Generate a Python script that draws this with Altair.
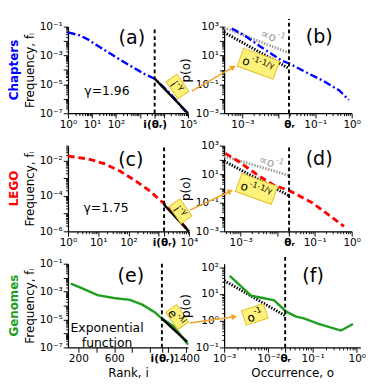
import altair as alt
import pandas as pd

FONT = "DejaVu Sans"
BLUE = "#0000ff"
RED = "#ff0000"
GREEN = "#1f9f1f"
YELLOW = "#fff27a"
YEDGE = "#e2bd2b"
ORANGE = "#f2a526"
GRAY = "#9a9a9a"

# ---------------- data ----------------
a_rank = [1, 3, 7, 13, 150, 1600, 4100, 20000, 80000]
a_freq = [0.0398, 0.0251, 0.0126, 0.0063, 5.0e-4, 5.0e-5, 2.5e-5, 2.0e-6, 1.26e-7]
a_fit_rank = [4100, 100000]
a_fit_freq = [2.5e-5, 1.0e-7]
a_theta = 4100

b_occ = [5.1e-4, 1.12e-3, 3.1e-3, 0.0123, 0.02, 0.063, 0.166, 0.457, 0.83]
b_p = [741, 257, 41.7, 4.27, 2.69, 0.589, 0.174, 0.038, 0.0083]
b_ref_occ = [3.16e-4, 0.019]
b_ref1_p = [851, 15]
b_ref2_p = [398, 1.26]
b_theta = 0.019

c_rank = [1, 4.6, 15.8, 53.7, 174, 479, 1514, 3890, 10000]
c_freq = [0.0186, 0.0129, 6.9e-3, 2.57e-3, 7.2e-4, 2.1e-4, 3.7e-5, 6.5e-6, 1.0e-6]
c_fit_rank = [1510, 10000]
c_fit_freq = [3.2e-5, 1.0e-6]
c_theta = 1510

d_occ = [3.9e-4, 9.3e-4, 3.0e-3, 7.8e-3, 0.0214, 0.083, 0.224, 0.617]
d_p = [288, 71, 8.1, 1.74, 0.68, 0.105, 0.0162, 2.2e-3]
d_ref_occ = [3.6e-4, 0.0204]
d_ref1_p = [182, 8.1]
d_ref2_p = [83, 0.31]
d_theta = 0.0204

e_rank = [117, 244, 414, 594, 774, 912, 1050, 1134, 1262, 1421]
e_freq = [3.7e-3, 1.7e-3, 5.6e-4, 3.5e-4, 2.6e-4, 1.17e-4, 3.3e-5, 1.12e-5, 3.2e-6, 1.6e-7]
e_fit_rank = [1134, 1412]
e_fit_freq = [1.12e-5, 2.5e-7]
e_theta = 1130

f_occ = [1.34e-3, 4.06e-3, 6.58e-3, 0.01355, 0.0254, 0.0411, 0.0635, 0.137, 0.438, 0.82]
f_p = [48.5, 8.77, 7.46, 5.85, 2.2, 1.47, 1.24, 0.76, 0.43, 0.76]
f_ref_occ = [1.0e-3, 0.0254]
f_ref_p = [32.3, 1.47]
f_theta = 0.024

rank5_major = [1, 10, 100, 1000, 10000, 100000]
rank5_labels = ["10⁰", "10¹", "10²", "", "", "10⁵"]
rank4_major = [1, 10, 100, 1000, 10000]
rank4_labels = ["10⁰", "10¹", "10²", "", "10⁴"]
freq7_major = [1e-7, 1e-6, 1e-5, 1e-4, 1e-3, 1e-2, 1e-1]
freq7_labels = ["10⁻⁷", "", "10⁻⁵", "", "10⁻³", "", "10⁻¹"]
freq6_major = [1e-6, 1e-5, 1e-4, 1e-3, 1e-2]
freq6_labels = ["10⁻⁶", "", "10⁻⁴", "", "10⁻²"]
occ_major = [1e-3, 1e-2, 1e-1, 1]
occ_labels_bd = ["10⁻³", "", "10⁻¹", "10⁰"]
occ_labels_f = ["10⁻³", "10⁻²", "10⁻¹", "10⁰"]
p6_major = [1e-3, 1e-2, 1e-1, 1, 10, 100, 1000]
p6_labels = ["10⁻³", "", "10⁻¹", "", "10¹", "", "10³"]
pf_major = [0.1, 1, 10, 100]
pf_labels = ["10⁻¹", "10⁰", "10¹", "10²"]
lin_ticks = [200, 400, 600, 800, 1000, 1200, 1400]
lin_labels = ["200", "", "600", "", "", "", "1400"]


def log_minor(d0, d1):
    return [k * 10.0 ** d for d in range(d0, d1) for k in range(2, 10)]


def near(v):
    return f"abs(datum.value - {v!r}) < {abs(v) * 1e-6!r}"


def mk_axis(major, labels, minor, lo, hi, theta=None, theta_label="", title=None):
    pairs = [(v, t) for v, t in zip(major, labels) if t]
    big = list(major)
    if theta is not None:
        pairs.append((theta, theta_label))
        big.append(theta)
    allv = list(major) + list(minor) + ([theta] if theta is not None else [])
    vals = sorted(set(v for v in allv if lo * 0.999999 <= v <= hi * 1.000001))
    expr = "''"
    for v, t in reversed(pairs):
        expr = f"({near(v)} ? '{t}' : {expr})"
    big_test = " || ".join(f"({near(v)})" for v in big)
    bold_test = near(theta) if theta is not None else "false"
    return alt.Axis(
        values=vals, labelExpr=expr, grid=False, labelOverlap=False, labelFlush=False,
        title=title,
        tickSize={"condition": {"test": big_test, "value": 5}, "value": 2.5},
        labelFontWeight={"condition": {"test": bold_test, "value": "bold"}, "value": "normal"},
    )


class Panel:
    def __init__(self, xs, ys, xa, ya):
        self.xs, self.ys, self.xa, self.ya = xs, ys, xa, ya

    def enc(self, **extra):
        return dict(x=alt.X("x:Q", scale=self.xs, axis=self.xa),
                    y=alt.Y("y:Q", scale=self.ys, axis=self.ya), **extra)

    def line(self, x, y, **mk):
        df = pd.DataFrame({"x": x, "y": y})
        return alt.Chart(df).mark_line(**mk).encode(**self.enc())

    def vrule(self, xv, y0, y1):
        df = pd.DataFrame({"x": [xv], "y": [y0], "y2": [y1]})
        return alt.Chart(df).mark_rule(color="black", strokeDash=[4, 3], strokeWidth=2).encode(
            **self.enc(y2="y2:Q"))

    def text(self, xv, yv, t, **mk):
        df = pd.DataFrame({"x": [xv], "y": [yv], "t": [t]})
        return alt.Chart(df).mark_text(font=FONT, **mk).encode(**self.enc(text="t:N"))

    def box(self, xv, yv, w, h, ang, base, sup, bdx, color="black", fill=True):
        layers = []
        if fill:
            r = h / w
            path = f"M-1,{-r:.3f}L1,{-r:.3f}L1,{r:.3f}L-1,{r:.3f}Z"
            df = pd.DataFrame({"x": [xv], "y": [yv]})
            layers.append(alt.Chart(df).mark_point(
                shape=path, size=w * w, angle=ang, filled=True, fill=YELLOW, stroke=YEDGE,
                strokeWidth=1, opacity=1).encode(**self.enc()))
        layers.append(self.text(xv, yv, base, angle=ang, align="right", baseline="middle",
                                dx=bdx, dy=2, fontSize=12.5, color=color))
        layers.append(self.text(xv, yv, sup, angle=ang, align="left", baseline="middle",
                                dx=bdx + 0.5, dy=-3.5, fontSize=8.5, color=color))
        return layers

    def arrow(self, x0, y0, x1, y1, ang):
        df = pd.DataFrame({"x": [x0], "y": [y0], "x2": [x1], "y2": [y1]})
        r = alt.Chart(df).mark_rule(color=ORANGE, strokeWidth=1.6).encode(
            **self.enc(x2="x2:Q", y2="y2:Q"))
        h = alt.Chart(pd.DataFrame({"x": [x1], "y": [y1]})).mark_point(
            shape="triangle-right", filled=True, color=ORANGE, size=45, angle=ang, opacity=1
        ).encode(**self.enc())
        return [r, h]


def row_title(t, color):
    return alt.TitleParams(t, orient="left", anchor="middle", fontSize=12.5, fontWeight="bold",
                           color=color, font=FONT)


DOT = dict(strokeDash=[1.5, 1.5], strokeWidth=3)
DASHDOT = dict(strokeWidth=2.5, strokeDash=[8, 3, 2, 3])
DASH = dict(strokeWidth=3, strokeDash=[7, 4])

# (a)
A = Panel(alt.Scale(type="log", domain=[1, 1e5], nice=False),
          alt.Scale(type="log", domain=[1e-7, 1e-1], nice=False),
          mk_axis(rank5_major, rank5_labels, log_minor(0, 5), 1, 1e5, a_theta, "i(θᵣ)"),
          mk_axis(freq7_major, freq7_labels, log_minor(-7, -1), 1e-7, 1e-1, title="Frequency, fᵢ"))
pa = alt.layer(
    A.line(a_rank, a_freq, color=BLUE, **DASHDOT),
    A.vrule(a_theta, 1e-7, 1e-1),
    A.line(a_fit_rank, a_fit_freq, color="black", strokeWidth=2.5),
    *A.box(36300, 7.1e-6, 22, 14, 55, "i", "-γ", -2.7),
    A.text(457, 0.0162, "(a)", fontSize=20),
    A.text(42, 3.3e-6, "γ=1.96", fontSize=13),
).properties(width=126, height=91, title=row_title("Chapters", BLUE))

# (b)
B = Panel(alt.Scale(type="log", domain=[3.16e-4, 1], nice=False),
          alt.Scale(type="log", domain=[1e-3, 1e3], nice=False),
          mk_axis(occ_major, occ_labels_bd, log_minor(-4, 0), 3.16e-4, 1, b_theta, "θᵣ"),
          mk_axis(p6_major, p6_labels, log_minor(-3, 3), 1e-3, 1e3, title="p(o)"))
pb = alt.layer(
    B.line(b_ref_occ, b_ref1_p, color=GRAY, **DOT),
    B.line(b_ref_occ, b_ref2_p, color="black", **DOT),
    B.line(b_occ, b_p, color=BLUE, **DASHDOT),
    B.vrule(b_theta, 1e-3, 3400),
    *B.box(2.75e-3, 2.7, 40, 20, 20, "o", "-1-1/γ", -9),
    *B.box(6.8e-3, 257, 0, 0, 20, "∝o", "-1", 4.2, color=GRAY, fill=False),
    *B.arrow(4.1e-5, 0.034, 5.6e-4, 1.58, 330),
    B.text(0.129, 186, "(b)", fontSize=20),
).properties(width=134, height=91)

# (c)
C = Panel(alt.Scale(type="log", domain=[1, 1e4], nice=False),
          alt.Scale(type="log", domain=[1e-6, 0.073], nice=False),
          mk_axis(rank4_major, rank4_labels, log_minor(0, 4), 1, 1e4, c_theta, "i(θᵣ)"),
          mk_axis(freq6_major, freq6_labels, log_minor(-6, -1), 1e-6, 0.073, title="Frequency, fᵢ"))
pc = alt.layer(
    C.line(c_rank, c_freq, color=RED, **DASH),
    C.vrule(c_theta, 1e-6, 0.073),
    C.line(c_fit_rank, c_fit_freq, color="black", strokeWidth=2.5),
    *C.box(5250, 1.38e-5, 22, 14, 55, "i", "-γ", -2.7),
    C.text(120, 0.0112, "(c)", fontSize=20),
    C.text(18.2, 2.0e-5, "γ=1.75", fontSize=13),
).properties(width=127, height=90, title=row_title("LEGO", RED))

# (d)
D = Panel(alt.Scale(type="log", domain=[3.6e-4, 1], nice=False),
          alt.Scale(type="log", domain=[1e-3, 1e3], nice=False),
          mk_axis(occ_major, occ_labels_bd, log_minor(-4, 0), 3.6e-4, 1, d_theta, "θᵣ"),
          mk_axis(p6_major, p6_labels, log_minor(-3, 3), 1e-3, 1e3, title="p(o)"))
pd_ = alt.layer(
    D.line(d_ref_occ, d_ref1_p, color=GRAY, **DOT),
    D.line(d_ref_occ, d_ref2_p, color="black", **DOT),
    D.line(d_occ, d_p, color=RED, **DASH),
    D.vrule(d_theta, 1e-3, 1e3),
    *D.box(2.7e-3, 0.93, 40, 20, 20, "o", "-1-1/γ", -9),
    *D.box(6.6e-3, 83, 0, 0, 20, "∝o", "-1", 4.2, color=GRAY, fill=False),
    *D.arrow(4.3e-5, 0.0303, 5.3e-4, 0.645, 335),
    D.text(0.132, 115, "(d)", fontSize=20),
).properties(width=134, height=90)

# (e)
E = Panel(alt.Scale(type="linear", domain=[85, 1420], nice=False, zero=False),
          alt.Scale(type="log", domain=[1e-7, 1e-1], nice=False),
          mk_axis(lin_ticks, lin_labels, [], 85, 1420, e_theta, "i(θᵣ)", title="Rank, i"),
          mk_axis(freq7_major, freq7_labels, log_minor(-7, -1), 1e-7, 1e-1, title="Frequency, fᵢ"))
pe = alt.layer(
    E.line(e_rank, e_freq, color=GREEN, strokeWidth=2.5),
    E.vrule(e_theta, 1e-7, 1e-1),
    E.line(e_fit_rank, e_fit_freq, color="black", strokeWidth=2.5),
    *E.box(1300, 1.5e-5, 22, 14, 55, "e", "-λi", -1.9),
    E.text(785, 0.0129, "(e)", fontSize=20),
    E.text(520, 2.3e-6, ["Exponential", "function"], fontSize=13, lineHeight=15),
).properties(width=126, height=88, title=row_title("Genomes", GREEN))

# (f)
F = Panel(alt.Scale(type="log", domain=[1e-3, 1.2], nice=False),
          alt.Scale(type="log", domain=[0.1, 138], nice=False),
          mk_axis(occ_major, occ_labels_f, log_minor(-3, 1), 1e-3, 1.2, f_theta, "θᵣ",
                  title="Occurrence, o"),
          mk_axis(pf_major, pf_labels, log_minor(-1, 3), 0.1, 138, title="p(o)"))
pf = alt.layer(
    F.line(f_ref_occ, f_ref_p, color="black", **DOT),
    F.line(f_occ, f_p, color=GREEN, strokeWidth=2.5),
    F.vrule(f_theta, 0.1, 290),
    *F.box(4.92e-3, 1.73, 24, 16, 342, "o", "-1", -0.85),
    *F.arrow(1.67e-4, 0.83, 1.7e-3, 1.42, 352),
    F.text(0.103, 44.7, "(f)", fontSize=20),
).properties(width=143, height=88)

chart = alt.concat(
    pa, pb, pc, pd_, pe, pf, columns=2, bounds="flush", align="each",
    spacing={"row": 34, "column": 37}, padding=0,
).configure(font=FONT).configure_view(stroke=None).configure_axis(
    labelFont=FONT, titleFont=FONT, labelColor="black", titleColor="black",
    domainColor="black", tickColor="black", domainWidth=1.3, tickWidth=1,
    titleFontWeight="normal", titleFontSize=12.5, labelFontSize=11, labelPadding=1,
    titlePadding=3,
)

chart.save("out.html", embed_options={"renderer": "svg", "actions": False})
